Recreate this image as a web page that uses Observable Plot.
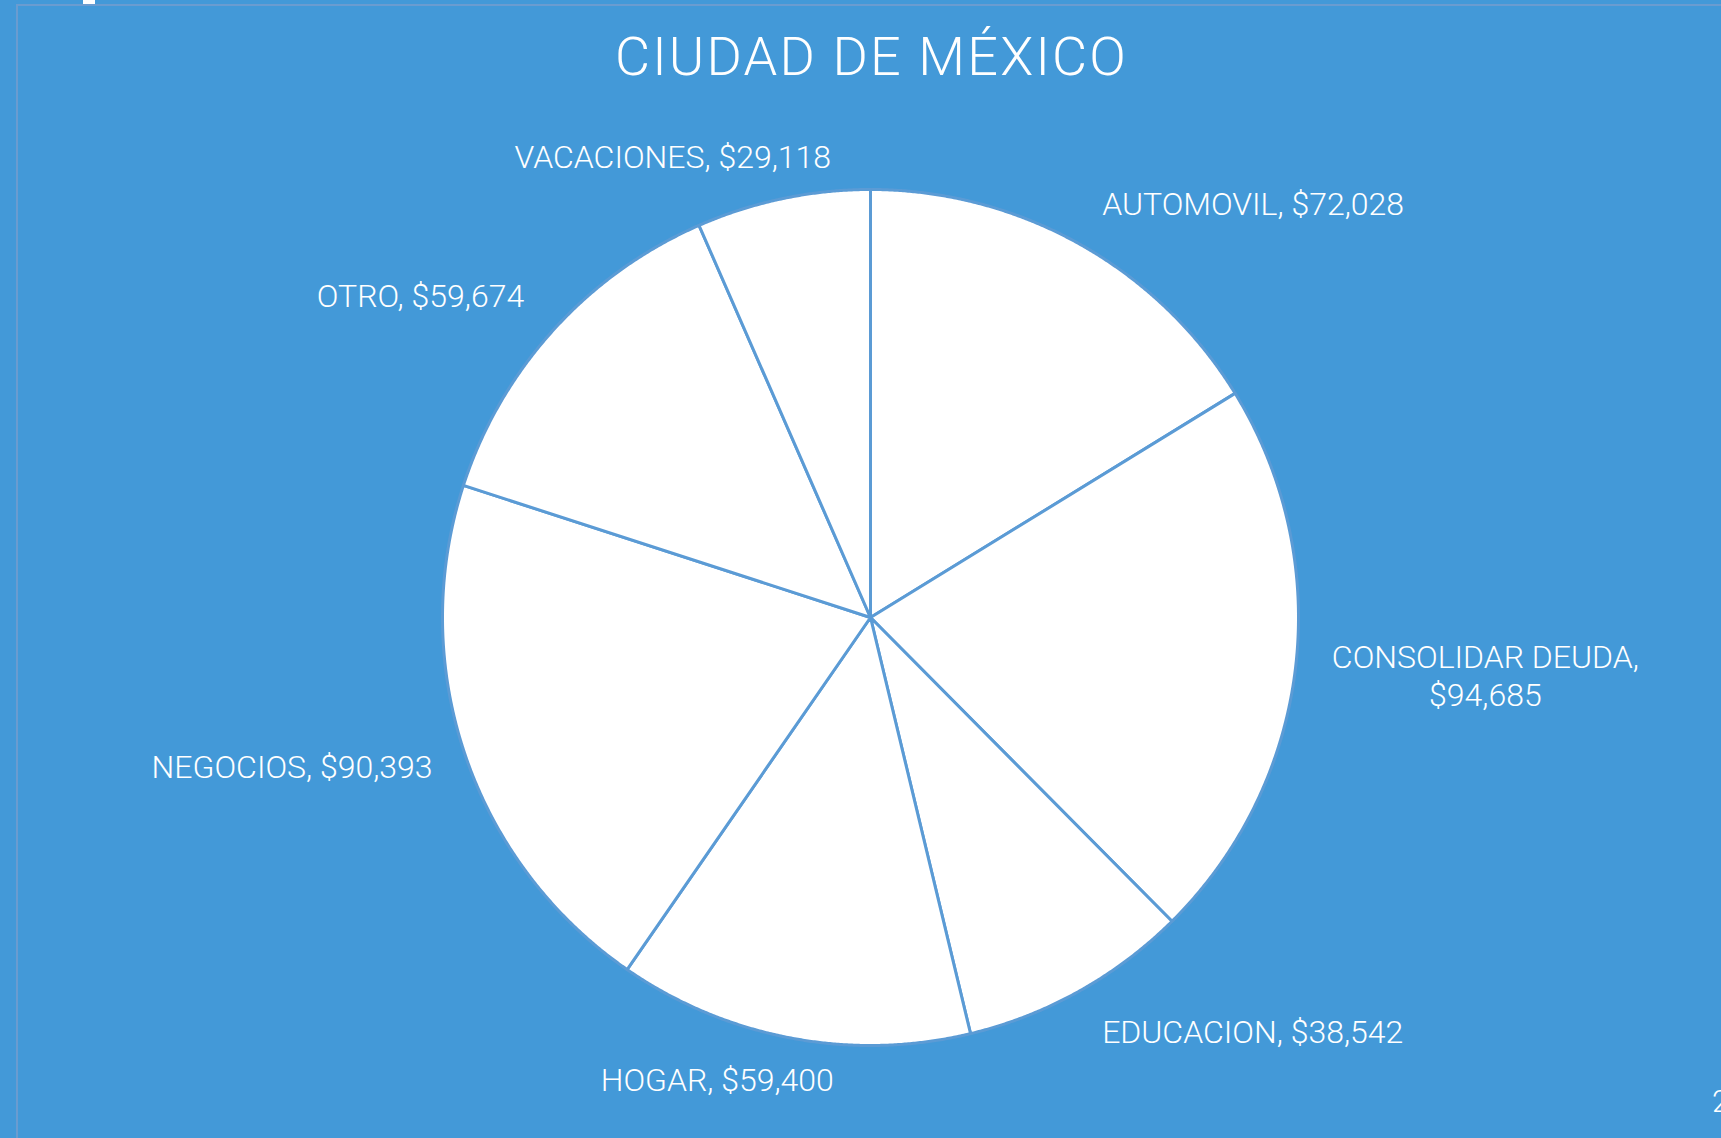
<!DOCTYPE html>
<html>
<head>
<meta charset="utf-8">
<script src="https://cdn.jsdelivr.net/npm/d3@7"></script>
<script src="https://cdn.jsdelivr.net/npm/@observablehq/plot@0.6"></script>
<style>
  html, body { margin: 0; padding: 0; background: #4399d8; width: 1721px; height: 1138px; overflow: hidden; }
  #wrap { position: relative; width: 1721px; height: 1138px; }
  #frameline { position: absolute; left: 16px; top: 4px; right: -10px; bottom: -10px; border-left: 2px solid #6a9cd0; border-top: 2px solid #6a9cd0; }
  #tab { position: absolute; left: 83px; top: 0; width: 12px; height: 4px; background: #fff; }
  #pagenum { position: absolute; left: 1712px; top: 1083px; font: 300 31px 'Roboto Light', Roboto, sans-serif; color: #fff; }
  #chart { position: absolute; left: 0; top: 0; }
</style>
</head>
<body>
<div id="wrap">
  <div id="frameline"></div>
  <div id="tab"></div>
  <div id="chart"></div>
  <div id="pagenum">2</div>
</div>
<script>
// ---- data ----
const title = "CIUDAD DE MÉXICO";
const categories = ["AUTOMOVIL", "CONSOLIDAR DEUDA", "EDUCACION", "HOGAR", "NEGOCIOS", "OTRO", "VACACIONES"];
const values = [72028, 94685, 38542, 59400, 90393, 59674, 29118];

// ---- layout (label nudges in px from radial anchor, line-break flag) ----
const labelNudgeX = [164, 170, 164, -71, -154, -118, -106];
const labelNudgeY = [-24, 4, 22, 21, 5, -22, -23];
const labelWrap = [false, true, false, false, false, false, false];

const W = 1721, H = 1138;
const R = 428; // px per unit radius
const cx = 870, cy = 617;
const labelGap = 20;
const font = "'Roboto Light', Roboto, sans-serif";

const fmt = d3.format(",");
const arcs = d3.pie().sort(null).value(d => d)(values);

const slicePts = [];
arcs.forEach((a, i) => {
  const key = categories[i];
  slicePts.push({key, x: 0, y: 0});
  const n = Math.max(2, Math.ceil((a.endAngle - a.startAngle) / 0.004));
  for (let k = 0; k <= n; k++) {
    const t = a.startAngle + (a.endAngle - a.startAngle) * k / n;
    slicePts.push({key, x: Math.sin(t), y: Math.cos(t)});
  }
  slicePts.push({key, x: 0, y: 0});
});

const labels = arcs.map((a, i) => {
  const mid = (a.startAngle + a.endAngle) / 2;
  const rr = (R + labelGap);
  return {
    text: categories[i] + "," + (labelWrap[i] ? "\n" : " ") + "$" + fmt(values[i]),
    x: (rr * Math.sin(mid) + labelNudgeX[i]) / R,
    y: (rr * Math.cos(mid) - labelNudgeY[i]) / R
  };
});

const chart = Plot.plot({
  width: W,
  height: H,
  marginLeft: cx - R,
  marginRight: W - (cx + R),
  marginTop: cy - R,
  marginBottom: H - (cy + R),
  x: {domain: [-1, 1], axis: null},
  y: {domain: [-1, 1], axis: null},
  style: {background: "transparent", overflow: "visible", fontFamily: font},
  marks: [
    Plot.line(slicePts, {x: "x", y: "y", z: "key", fill: "white", stroke: "#5b9bd5", strokeWidth: 3, strokeLinejoin: "round", curve: "linear"}),
    Plot.text(labels, {x: "x", y: "y", text: "text", fill: "white", fontSize: 32, fontWeight: 300, lineHeight: 1.2, textAnchor: "middle", lineAnchor: "middle"}),
    Plot.text([title], {frameAnchor: "top", dx: 1, dy: -(cy - R) + 57, text: d => d, fill: "white", fontSize: 54, fontWeight: 300, lineAnchor: "middle"})
  ]
});
// widen the title's letter spacing (styling only)
d3.select(chart).selectAll("text").filter(function() { return this.textContent === title; })
  .style("letter-spacing", "2.2px");
document.getElementById("chart").appendChild(chart);
</script>
</body>
</html>
